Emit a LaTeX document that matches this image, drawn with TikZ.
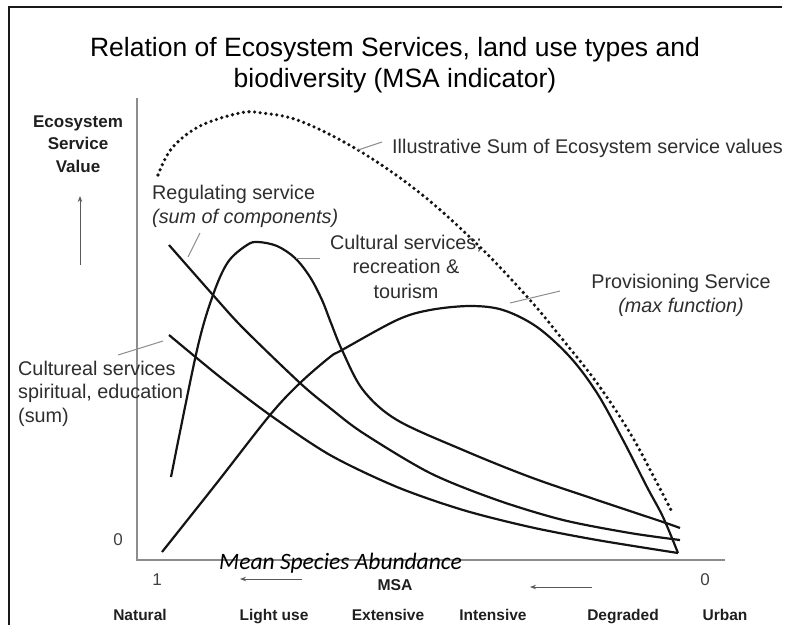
\documentclass[tikz,border=0pt]{standalone}
\usepackage{fontspec}
\setmainfont{Liberation Sans}
\newfontfamily\calib{Carlito}
\usetikzlibrary{arrows.meta}
\begin{document}
\begin{tikzpicture}[x=1pt,y=-1pt,
  curve/.style={line width=2.2pt, black!92, line join=round},
  leader/.style={line width=1pt, black!45},
  axisline/.style={line width=1.3pt, black!45},
  frameline/.style={line width=2.6pt, black!90},
  lbl/.style={font=\fontsize{19.8}{24}\selectfont, text=black!82, inner sep=0pt},
  boldlbl/.style={font=\bfseries\fontsize{15.5}{18}\selectfont, text=black!88, inner sep=0pt, anchor=base},
  numlbl/.style={font=\fontsize{17}{20}\selectfont, text=black!75, inner sep=0pt, anchor=base},
  smallarrow/.style={line width=1pt, black!65, -{Stealth[length=6pt,width=4.5pt]}},
  dotcurve/.style={line width=3.6pt, black!92, line cap=round, dash pattern=on 0pt off 5.6pt}
]
\useasboundingbox (0,0) rectangle (789,625);
% frame
\draw[frameline] (9,625) -- (9,7) -- (782,7);
% title (base anchor = last line)
\node[font=\fontsize{26.5}{31}\selectfont, text=black, align=center, anchor=base, inner sep=0pt] (title) at (395,87)
  {Relation of Ecosystem Services, land use types and\\biodiversity (MSA indicator)};
% axes
\coordinate (ytop) at (137,98);
\coordinate (orig) at (137,560);
\coordinate (xend) at (725,560);
\draw[axisline] (ytop) -- (orig) -- (xend);
% y label
\node[font=\bfseries\fontsize{17}{22.5}\selectfont, text=black!88, align=center, anchor=base, inner sep=0pt] (ylab) at (78,172)
  {Ecosystem\\Service\\Value};
\coordinate (ua0) at (80,265);
\coordinate (ua1) at (80,196);
\draw[smallarrow] (ua0) -- (ua1);
% numbers
\node[numlbl] (zeroy) at (118,545) {0};
\node[numlbl] (one) at (157,585) {1};
\node[numlbl] (zerox) at (705,585) {0};
% x labels
\node[font=\calib\itshape\fontsize{23.5}{26}\selectfont, anchor=base, inner sep=0pt] (msalong) at (340.5,569) {Mean Species Abundance};
\node[font=\bfseries\fontsize{15.7}{18}\selectfont, text=black!88, anchor=base, inner sep=0pt] (msa) at (395,590) {MSA};
\coordinate (la0) at (302,579);
\coordinate (la1) at (240,579);
\draw[smallarrow] (la0) -- (la1);
\coordinate (ra0) at (592,587);
\coordinate (ra1) at (530,587);
\draw[smallarrow] (ra0) -- (ra1);
\node[boldlbl] (nat) at (140,620) {Natural};
\node[boldlbl] (light) at (274,620) {Light use};
\node[boldlbl] (ext) at (388,620) {Extensive};
\node[boldlbl] (int) at (493,620) {Intensive};
\node[boldlbl] (deg) at (623,620) {Degraded};
\node[boldlbl] (urb) at (725,620) {Urban};
% curves
% dotted sum
\draw[dotcurve] plot[smooth, tension=0.6] coordinates {(158,175) (172,148) (200,126) (240,113) (262,113) (300,121) (358,150) (420,193) (480,247) (530,300) (563,340) (597,383) (630,433) (657,483) (672,512)};
% regulating
\draw[curve] plot[smooth, tension=0.5] coordinates {(169,245) (213,295) (243,328) (300,383) (330,408) (363,433) (430,473) (497,500) (563,520) (630,533) (680,540)};
% spiritual
\draw[curve] plot[smooth, tension=0.5] coordinates {(169,335) (220,377) (270,415) (330,455) (397,487) (463,510) (530,527) (597,540) (678,553)};
% recreation
\draw[curve] plot[smooth, tension=0.55] coordinates {(171,477) (197,350) (213,295) (228,262) (247,245) (258,242) (277,246) (295,258) (310,277) (322,300) (331,323) (342,350) (363,390) (397,420) (463,450) (530,477) (597,500) (663,522) (680,528)};
% provisioning
\draw[curve] plot[smooth, tension=0.55] coordinates {(162,552) (216,484) (270,415) (300,383) (330,357) (342,350) (397,320) (430,310) (470,306) (503,310) (537,327) (570,357) (597,393) (623,440) (647,487) (663,517) (678,553)};
% labels and leaders
\node[lbl, anchor=base west] (sumlbl) at (392,153) {Illustrative Sum of Ecosystem service values};
\coordinate (sl0) at (358,150); \coordinate (sl1) at (382,142);
\draw[leader] (sl0) -- (sl1);
\node[lbl, anchor=base west, align=left, font=\fontsize{19.8}{24}\selectfont] (reglbl) at (152,223) {Regulating service\\\itshape(sum of components)};
\coordinate (rl0) at (188,257); \coordinate (rl1) at (200,233);
\draw[leader] (rl0) -- (rl1);
\node[lbl, anchor=base, align=center, font=\fontsize{19.8}{24.3}\selectfont] (reclbl) at (406,298) {Cultural services;\\recreation \&\\tourism};
\coordinate (cl0) at (296,258); \coordinate (cl1) at (320,258);
\draw[leader] (cl0) -- (cl1);
\node[lbl, anchor=base, align=center, font=\fontsize{19.8}{24}\selectfont] (provlbl) at (681,312) {Provisioning Service\\\itshape(max function)};
\coordinate (pl0) at (510,303); \coordinate (pl1) at (560,291);
\draw[leader] (pl0) -- (pl1);
\node[lbl, anchor=base west, align=left, font=\fontsize{19.8}{23.5}\selectfont] (spirlbl) at (18,422) {Cultureal services\\spiritual, education\\(sum)};
\coordinate (spl0) at (118,355); \coordinate (spl1) at (163,341);
\draw[leader] (spl0) -- (spl1);
\end{tikzpicture}
\end{document}
